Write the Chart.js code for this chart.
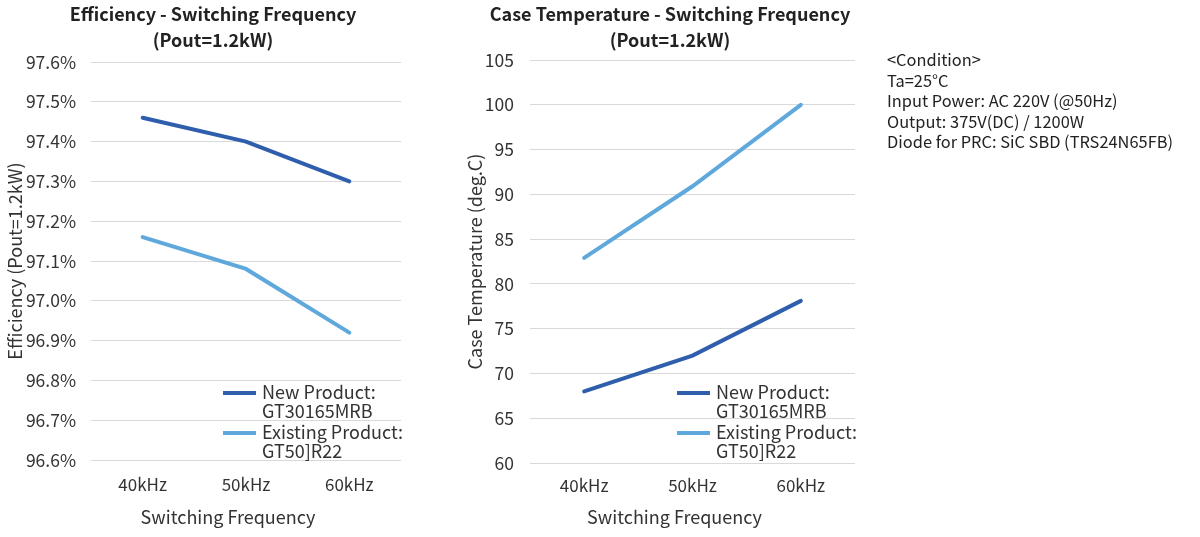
<!DOCTYPE html>
<html>
<head>
<meta charset="utf-8">
<script src="https://cdn.jsdelivr.net/npm/chart.js@4"></script>
<style>
    body { margin: 0; background: #fff; font-family: "Noto Sans CJK JP", "Noto Sans", sans-serif; }
    .box { position: absolute; top: 0; height: 537px; }
    #left-box { left: 0; width: 426px; }
    #right-box { left: 440px; width: 460px; }
    #condition {
        position: absolute; left: 887px; top: 49px;
        font-size: 16.4px; line-height: 20.5px; color: #222;
    }
</style>
</head>
<body>
<div class="box" id="left-box"><canvas id="eff-chart"></canvas></div>
<div class="box" id="right-box"><canvas id="temp-chart"></canvas></div>
<div id="condition">
    &lt;Condition&gt;<br>
    Ta=25°C<br>
    Input Power: AC 220V (@50Hz)<br>
    Output: 375V(DC) / 1200W<br>
    Diode for PRC: SiC SBD (TRS24N65FB)
</div>
<script>
const frequencies = ['40kHz', '50kHz', '60kHz'];
const seriesNames = [['New Product:', 'GT30165MRB'], ['Existing Product:', 'GT50]R22']];
const newEfficiency = [97.46, 97.40, 97.30];
const oldEfficiency = [97.16, 97.08, 96.92];
const newTemperature = [68.0, 72.0, 78.1];
const oldTemperature = [82.9, 90.9, 100.0];

const FONT = '"Noto Sans CJK JP", "Noto Sans", sans-serif';
const TEXT = '#333';
const NEW_COLOR = '#2F5EAD';
const OLD_COLOR = '#5FA8DC';

// titles, x axis title and two-line legend drawn on the canvas
const decorPlugin = {
    id: 'decor',
    afterDraw(chart, args, opts) {
        const ctx = chart.ctx;
        const area = chart.chartArea;
        ctx.save();
        ctx.fillStyle = '#222';
        ctx.textAlign = 'center';
        ctx.textBaseline = 'middle';
        ctx.font = 'bold 18px ' + FONT;
        opts.title.forEach((line, i) => {
            ctx.fillText(line, chart.width / 2, 14 + i * 26);
        });

        ctx.fillStyle = TEXT;
        ctx.font = '18px ' + FONT;
        ctx.fillText(opts.xTitle, (area.left + area.right) / 2 - 18, 517);

        ctx.textAlign = 'left';
        chart.data.datasets.forEach((ds, i) => {
            const x = area.left + opts.legendX;
            const y = area.top + opts.legendY + i * 40;
            ctx.strokeStyle = ds.borderColor;
            ctx.lineWidth = 4;
            ctx.beginPath();
            ctx.moveTo(x, y);
            ctx.lineTo(x + 33, y);
            ctx.stroke();
            seriesNames[i].forEach((line, j) => {
                ctx.fillText(line, x + 39, y - 1 + j * 19.5);
            });
        });
        ctx.restore();
    }
};

function makeDatasets(newData, oldData) {
    return [
        { label: seriesNames[0].join(' '), data: newData, borderColor: NEW_COLOR, backgroundColor: NEW_COLOR },
        { label: seriesNames[1].join(' '), data: oldData, borderColor: OLD_COLOR, backgroundColor: OLD_COLOR }
    ];
}

function makeChart(id, cfg) {
    return new Chart(document.getElementById(id), {
        type: 'line',
        data: { labels: frequencies, datasets: makeDatasets(cfg.newData, cfg.oldData) },
        plugins: [decorPlugin],
        options: {
            responsive: true,
            maintainAspectRatio: false,
            animation: false,
            elements: {
                line: { borderWidth: 4, tension: 0, borderCapStyle: 'round' },
                point: { radius: 0, hoverRadius: 0 }
            },
            layout: { padding: { top: cfg.top, right: cfg.right, left: 0, bottom: 0 } },
            plugins: {
                legend: { display: false },
                tooltip: { enabled: false },
                decor: { title: cfg.title, xTitle: 'Switching Frequency', legendX: cfg.legendX, legendY: cfg.legendY }
            },
            scales: {
                x: {
                    offset: true,
                    grid: { display: false },
                    border: { display: false },
                    ticks: { color: TEXT, font: { family: FONT, size: 17 }, padding: cfg.xPad },
                    afterFit: scale => { scale.height = cfg.xHeight; }
                },
                y: {
                    min: cfg.min,
                    max: cfg.max,
                    grid: { color: '#D9D9D9', lineWidth: 1, drawTicks: false },
                    border: { display: false },
                    ticks: {
                        stepSize: cfg.step,
                        color: TEXT,
                        font: { family: FONT, size: 17.5 },
                        padding: cfg.yPad,
                        callback: cfg.format
                    },
                    title: {
                        display: true,
                        text: cfg.yTitle,
                        color: TEXT,
                        font: { family: FONT, size: 18 },
                        padding: { top: cfg.yTitlePad, bottom: 0 }
                    },
                    afterFit: scale => { scale.width = cfg.yWidth; }
                }
            }
        }
    });
}

makeChart('eff-chart', {
    newData: newEfficiency,
    oldData: oldEfficiency,
    title: ['Efficiency - Switching Frequency', '(Pout=1.2kW)'],
    yTitle: 'Efficiency (Pout=1.2kW)',
    min: 96.6, max: 97.6, step: 0.1,
    format: v => v.toFixed(1) + '%',
    top: 62, right: 25, yWidth: 91, xHeight: 77,
    xPad: 6, yPad: 15, yTitlePad: 4,
    legendX: 132, legendY: 331
});

makeChart('temp-chart', {
    newData: newTemperature,
    oldData: oldTemperature,
    title: ['Case Temperature - Switching Frequency', '(Pout=1.2kW)'],
    yTitle: 'Case Temperature (deg.C)',
    min: 60, max: 105, step: 5,
    format: v => v,
    top: 60, right: 45, yWidth: 90, xHeight: 74,
    xPad: 4, yPad: 16, yTitlePad: 24,
    legendX: 147, legendY: 333
});
</script>
</body>
</html>
